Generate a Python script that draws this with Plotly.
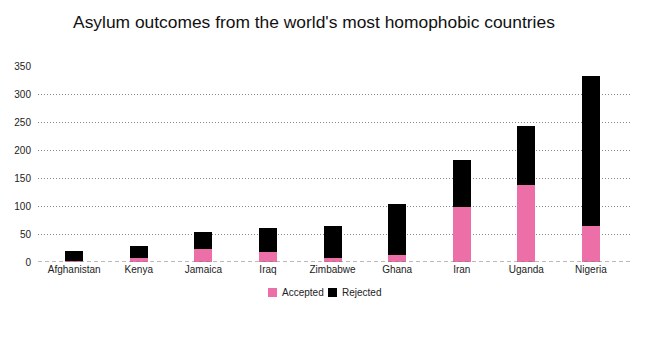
import plotly.graph_objects as go

countries = ["Afghanistan", "Kenya", "Jamaica", "Iraq", "Zimbabwe", "Ghana", "Iran", "Uganda", "Nigeria"]
accepted = [2, 7, 23, 18, 7, 13, 99, 137, 64]
rejected = [18, 22, 31, 43, 58, 91, 84, 107, 268]
y_ticks = [0, 50, 100, 150, 200, 250, 300, 350]
series_names = ["Accepted", "Rejected"]
series_colors = ["#ec6fa7", "#000000"]

W, H = 650, 345
ML, MR, MT, MB = 38, 19, 66, 83
PW, PH = W - ML - MR, H - MT - MB


def px_x(p):
    return (p - ML) / PW


def px_y(p):
    return (H - MB - p) / PH


fig = go.Figure()
for name, vals, col in zip(series_names, [accepted, rejected], series_colors):
    fig.add_trace(go.Bar(x=countries, y=vals, name=name, marker=dict(color=col, line=dict(width=0))))

fig.update_layout(
    barmode="stack",
    bargap=0.72,
    width=W, height=H,
    margin=dict(l=ML, r=MR, t=MT, b=MB),
    paper_bgcolor="white", plot_bgcolor="white",
    font=dict(family="Liberation Sans, Arial, sans-serif", size=10, color="#222222"),
    title=dict(text="Asylum outcomes from the world's most homophobic countries",
               x=0.483, xanchor="center", y=1 - 22 / H, yanchor="middle",
               font=dict(size=17.4, color="#111111")),
    showlegend=False,
)
fig.update_xaxes(range=[-0.56, 8.62], showgrid=False, zeroline=False, showline=False, ticks="",
                 tickfont=dict(size=10, color="#222222"))
fig.update_yaxes(range=[0, 350.6], tickvals=y_ticks, showgrid=True, gridcolor="#888888", griddash="1px,2px",
                 gridwidth=1, zeroline=False, showline=False, ticks="", ticklabelstandoff=6,
                 tickfont=dict(size=10, color="#222222"))
fig.add_shape(type="line", xref="paper", yref="y", x0=0, x1=1, y0=0, y1=0,
              line=dict(color="#777777", width=1, dash="4px,3px"), layer="above")

# manual legend (compact, like the reference)
legend_items = [(268, series_names[0], series_colors[0]), (328, series_names[1], series_colors[1])]
for sx, name, col in legend_items:
    fig.add_shape(type="rect", xref="paper", yref="paper",
                  x0=px_x(sx), x1=px_x(sx + 9), y0=px_y(297), y1=px_y(288),
                  fillcolor=col, line=dict(width=0))
    fig.add_annotation(text=name, xref="paper", yref="paper", x=px_x(sx + 12), y=px_y(292.5),
                       xanchor="left", yanchor="middle", showarrow=False,
                       font=dict(size=10, color="#222222"))

fig.write_html("out.html")
